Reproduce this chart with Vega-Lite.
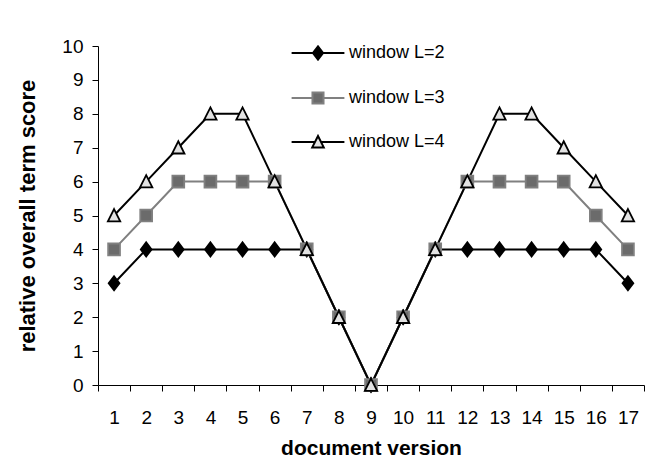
{
  "$schema": "https://vega.github.io/schema/vega-lite/v6.json",
  "width": 546,
  "height": 339,
  "autosize": "none",
  "padding": {"left": 98, "top": 46, "right": 27, "bottom": 81},
  "background": "white",
  "config": {
    "view": {"stroke": null},
    "font": "Liberation Sans",
    "axis": {
      "labelFont": "Liberation Sans",
      "labelFontSize": 19,
      "labelColor": "#000000",
      "tickColor": "#000000",
      "domainColor": "#000000",
      "tickSize": 6,
      "tickWidth": 1,
      "domainWidth": 1,
      "titleFont": "Liberation Sans",
      "titleFontWeight": "bold",
      "titleColor": "#000000",
      "grid": false
    },
    "legend": {
      "labelFont": "Liberation Sans",
      "labelFontSize": 18,
      "labelColor": "#000000"
    }
  },
  "data": {
    "values": [
      {"s": "window L=2", "v": 1, "y": 3},
      {"s": "window L=2", "v": 2, "y": 4},
      {"s": "window L=2", "v": 3, "y": 4},
      {"s": "window L=2", "v": 4, "y": 4},
      {"s": "window L=2", "v": 5, "y": 4},
      {"s": "window L=2", "v": 6, "y": 4},
      {"s": "window L=2", "v": 7, "y": 4},
      {"s": "window L=2", "v": 8, "y": 2},
      {"s": "window L=2", "v": 9, "y": 0},
      {"s": "window L=2", "v": 10, "y": 2},
      {"s": "window L=2", "v": 11, "y": 4},
      {"s": "window L=2", "v": 12, "y": 4},
      {"s": "window L=2", "v": 13, "y": 4},
      {"s": "window L=2", "v": 14, "y": 4},
      {"s": "window L=2", "v": 15, "y": 4},
      {"s": "window L=2", "v": 16, "y": 4},
      {"s": "window L=2", "v": 17, "y": 3},
      {"s": "window L=3", "v": 1, "y": 4},
      {"s": "window L=3", "v": 2, "y": 5},
      {"s": "window L=3", "v": 3, "y": 6},
      {"s": "window L=3", "v": 4, "y": 6},
      {"s": "window L=3", "v": 5, "y": 6},
      {"s": "window L=3", "v": 6, "y": 6},
      {"s": "window L=3", "v": 7, "y": 4},
      {"s": "window L=3", "v": 8, "y": 2},
      {"s": "window L=3", "v": 9, "y": 0},
      {"s": "window L=3", "v": 10, "y": 2},
      {"s": "window L=3", "v": 11, "y": 4},
      {"s": "window L=3", "v": 12, "y": 6},
      {"s": "window L=3", "v": 13, "y": 6},
      {"s": "window L=3", "v": 14, "y": 6},
      {"s": "window L=3", "v": 15, "y": 6},
      {"s": "window L=3", "v": 16, "y": 5},
      {"s": "window L=3", "v": 17, "y": 4},
      {"s": "window L=4", "v": 1, "y": 5},
      {"s": "window L=4", "v": 2, "y": 6},
      {"s": "window L=4", "v": 3, "y": 7},
      {"s": "window L=4", "v": 4, "y": 8},
      {"s": "window L=4", "v": 5, "y": 8},
      {"s": "window L=4", "v": 6, "y": 6},
      {"s": "window L=4", "v": 7, "y": 4},
      {"s": "window L=4", "v": 8, "y": 2},
      {"s": "window L=4", "v": 9, "y": 0},
      {"s": "window L=4", "v": 10, "y": 2},
      {"s": "window L=4", "v": 11, "y": 4},
      {"s": "window L=4", "v": 12, "y": 6},
      {"s": "window L=4", "v": 13, "y": 8},
      {"s": "window L=4", "v": 14, "y": 8},
      {"s": "window L=4", "v": 15, "y": 7},
      {"s": "window L=4", "v": 16, "y": 6},
      {"s": "window L=4", "v": 17, "y": 5}
    ]
  },
  "encoding": {
    "x": {
      "field": "v",
      "type": "ordinal",
      "bandPosition": 0.5,
      "scale": {"type": "band", "paddingInner": 0, "paddingOuter": 0},
      "axis": {
        "title": "document version",
        "titleFontSize": 21,
        "labelAngle": 0,
        "tickBand": "extent",
        "labelPadding": 17,
        "titlePadding": 10
      }
    },
    "y": {
      "field": "y",
      "type": "quantitative",
      "scale": {"domain": [0, 10], "nice": false},
      "axis": {
        "title": "relative overall term score",
        "titleFontSize": 22,
        "values": [0, 1, 2, 3, 4, 5, 6, 7, 8, 9, 10],
        "labelPadding": 9,
        "titlePadding": 22
      }
    }
  },
  "resolve": {"scale": {"shape": "independent", "fill": "independent", "stroke": "independent"}},
  "layer": [
    {
      "mark": {"type": "line", "strokeWidth": 2},
      "encoding": {
        "stroke": {
          "field": "s",
          "type": "nominal",
          "scale": {"domain": ["window L=2", "window L=3", "window L=4"], "range": ["#000000", "#808080", "#000000"]},
          "legend": null
        }
      }
    },
    {
      "mark": {"type": "point", "filled": true, "opacity": 1, "strokeWidth": 1.8, "size": 660},
      "encoding": {
        "stroke": {
          "field": "s",
          "type": "nominal",
          "scale": {"domain": ["window L=2", "window L=3", "window L=4"], "range": ["#000000", "#808080", "#000000"]},
          "legend": null
        },
        "fill": {
          "field": "s",
          "type": "nominal",
          "scale": {"domain": ["window L=2", "window L=3", "window L=4"], "range": ["#000000", "#6b6b6b", "#e3e3e3"]},
          "legend": null
        },
        "shape": {
          "field": "s",
          "type": "nominal",
          "scale": {
            "domain": ["window L=2", "window L=3", "window L=4"],
            "range": [
              "M0,-0.55L0.42,0L0,0.55L-0.42,0Z",
              "M-0.46,-0.46H0.46V0.46H-0.46Z",
              "M0,-0.5L0.48,0.45L-0.48,0.45Z"
            ]
          },
          "legend": null
        }
      }
    },
    {
      "mark": {"type": "point", "filled": true, "opacity": 0, "strokeWidth": 2, "size": 576},
      "encoding": {
        "stroke": {
          "field": "s",
          "type": "nominal",
          "scale": {"domain": ["window L=2", "window L=3", "window L=4"], "range": ["#000000", "#808080", "#000000"]}
        },
        "fill": {
          "field": "s",
          "type": "nominal",
          "scale": {"domain": ["window L=2", "window L=3", "window L=4"], "range": ["#000000", "#6b6b6b", "#e3e3e3"]}
        },
        "shape": {
          "field": "s",
          "type": "nominal",
          "scale": {
            "domain": ["window L=2", "window L=3", "window L=4"],
            "range": [
              "M-2.2,0H-0.42M0.42,0H2.2M0,-0.55L0.42,0L0,0.55L-0.42,0Z",
              "M-2.2,0H-0.46M0.46,0H2.2M-0.46,-0.46H0.46V0.46H-0.46Z",
              "M-2.2,0H-0.26M0.26,0H2.2M0,-0.5L0.48,0.45L-0.48,0.45Z"
            ]
          },
          "legend": {
            "title": null,
            "orient": "none",
            "legendX": 207,
            "legendY": -6,
            "padding": 0,
            "symbolSize": 576,
            "symbolStrokeWidth": 2,
            "symbolOpacity": 1,
            "rowPadding": 21,
            "labelOffset": 18
          }
        }
      }
    }
  ]
}
